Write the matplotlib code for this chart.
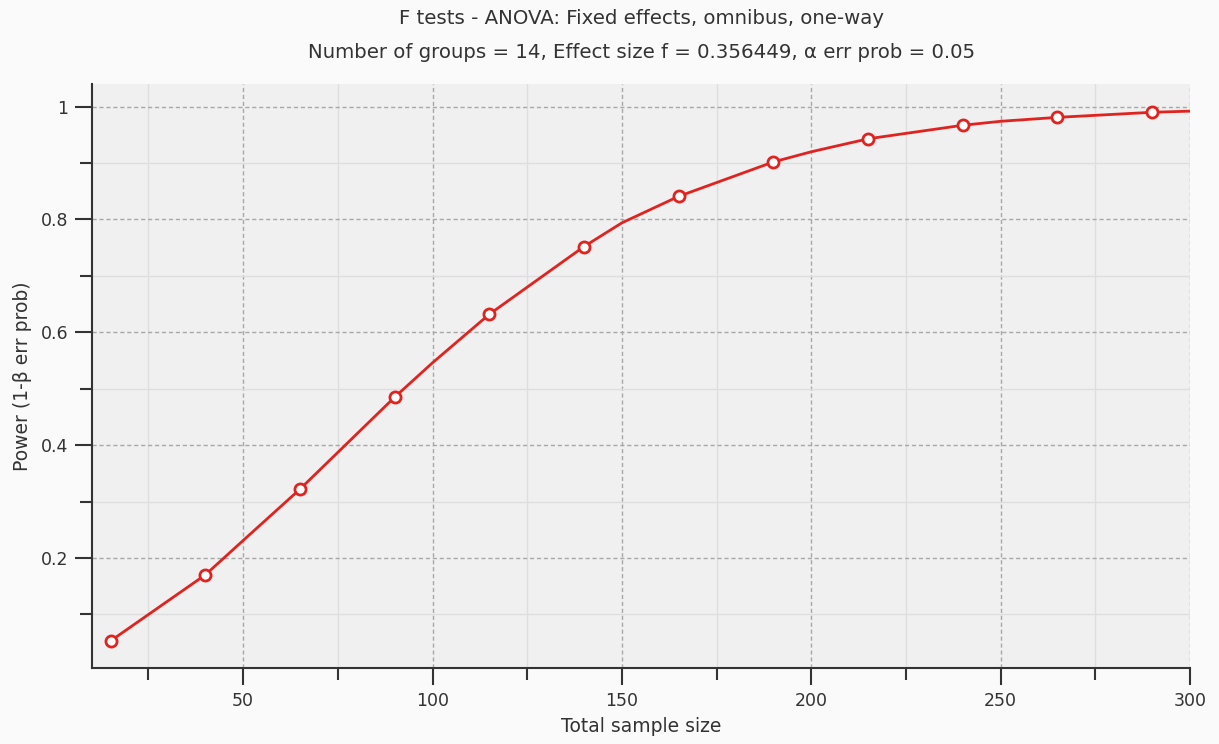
import numpy as np
import matplotlib
matplotlib.use('Agg')
import matplotlib.pyplot as plt
from matplotlib.ticker import MultipleLocator, FixedLocator

n_marks = [15, 40, 65, 90, 115, 140, 165, 190, 215, 240, 265, 290]
power_marks = [0.053, 0.170, 0.322, 0.485, 0.632, 0.752, 0.841, 0.902,
               0.943, 0.967, 0.981, 0.990]

# curve also read at the major gridline crossings
n_curve = [15, 40, 50, 65, 90, 100, 115, 140, 150, 165, 190, 200, 215,
           240, 250, 265, 290, 300]
power_curve = [0.053, 0.170, 0.231, 0.322, 0.485, 0.546, 0.632, 0.752,
               0.794, 0.841, 0.902, 0.920, 0.943, 0.967, 0.974, 0.981,
               0.990, 0.992]

title = 'F tests - ANOVA: Fixed effects, omnibus, one-way'
subtitle = u'Number of groups = 14, Effect size f = 0.356449, \u03b1 err prob = 0.05'

plt.rcParams['font.family'] = ['DejaVu Sans']
txt = '#333333'
red = '#e0231f'

fig = plt.figure(figsize=(12.19, 7.44), dpi=100, facecolor='#fafafa')
ax = fig.add_axes([0.0752, 0.1022, 0.9010, 0.7848])
ax.set_facecolor('#f0f0f0')

ax.plot(n_curve, power_curve, color=red, lw=2.0, zorder=3)
ax.plot(n_marks, power_marks, 'o', ms=8, mfc='white', mec=red, mew=2.0, zorder=4)

ax.set_xlim(10, 300)
ax.set_ylim(0.005, 1.04)
ax.xaxis.set_major_locator(MultipleLocator(50))
ax.xaxis.set_minor_locator(FixedLocator([25, 75, 125, 175, 225, 275]))
ax.yaxis.set_major_locator(FixedLocator([0.2, 0.4, 0.6, 0.8, 1.0]))
ax.yaxis.set_minor_locator(FixedLocator([0.1, 0.3, 0.5, 0.7, 0.9]))
ax.set_yticklabels(['0.2', '0.4', '0.6', '0.8', '1'])

ax.grid(which='major', color='#a8a8a8', ls=(0, (3, 2)), lw=1.0)
ax.grid(which='minor', color='#dedede', ls='-', lw=1.0)
ax.set_axisbelow(True)

for s in ['top', 'right']:
    ax.spines[s].set_visible(False)
for s in ['left', 'bottom']:
    ax.spines[s].set_color('#333333')
    ax.spines[s].set_linewidth(1.5)

ax.tick_params(which='major', length=12, width=1.5, color='#333333',
               labelsize=12.5, labelcolor=txt, pad=5)
ax.tick_params(which='minor', length=8.5, width=1.5, color='#333333')

ax.set_xlabel('Total sample size', fontsize=13.5, color=txt, labelpad=5)
ax.set_ylabel(u'Power (1-\u03b2 err prob)', fontsize=13.5, color=txt, labelpad=6)

fig.text(0.526, 0.975, title, ha='center', va='center', fontsize=14.2, color=txt)
fig.text(0.526, 0.930, subtitle, ha='center', va='center', fontsize=14.2, color=txt)

fig.savefig('out.png', dpi=100, facecolor=fig.get_facecolor())
